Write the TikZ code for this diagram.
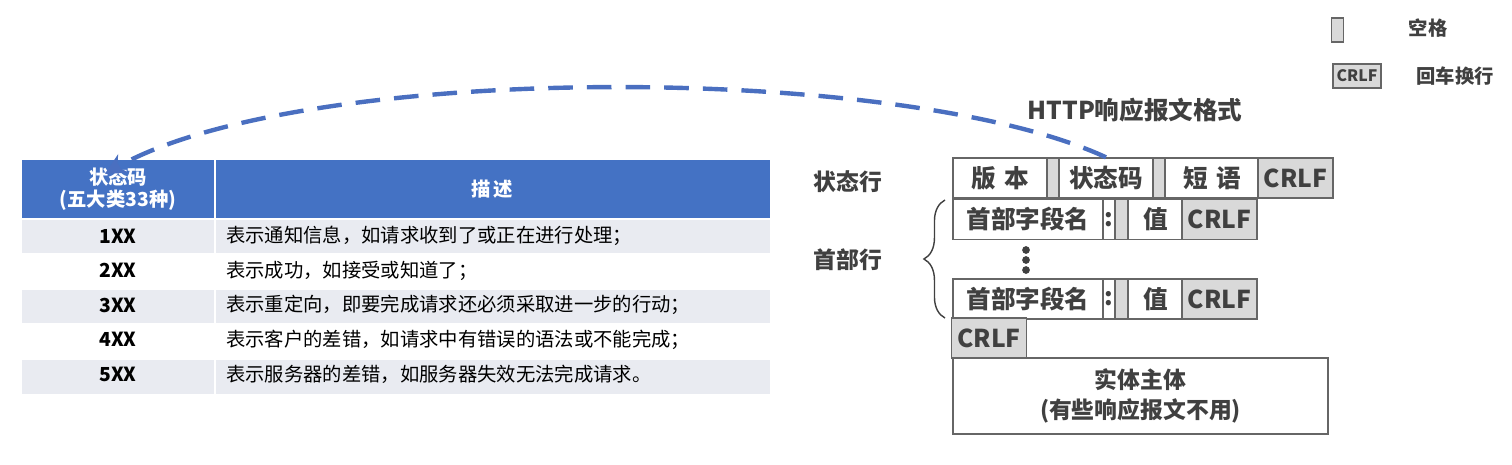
\documentclass[tikz,border=0pt]{standalone}
\usepackage{fontspec}
\setmainfont{Noto Sans CJK SC}
\usetikzlibrary{decorations.pathreplacing,arrows.meta}
\definecolor{hdblue}{HTML}{4472C4}
\definecolor{rowgray}{HTML}{E9EBF1}
\definecolor{fldgray}{HTML}{D9D9D9}
\definecolor{txt}{HTML}{404040}
\definecolor{arrblue}{HTML}{4A6FC0}
\tikzset{
  fld/.style={draw=gray!80!black,line width=0.8pt,minimum height=0.8cm},
  gap/.style={fld,fill=fldgray},
  big/.style={font=\fontsize{14}{16}\selectfont\bfseries,text=txt},
  cell/.style={font=\fontsize{11}{13}\selectfont,text=black},
}
\begin{document}
\begin{tikzpicture}[x=0.02cm,y=-0.02cm]
\useasboundingbox (0,0) rectangle (1512,464);
% table
\fill[hdblue] (22,160) rectangle (770,219);
\foreach \y/\c in {219/rowgray,254/white,289/rowgray,324/white,359/rowgray}
  \fill[\c] (22,\y) rectangle (770,\y+34.5);
\draw[white,line width=1pt] (215,160) -- (215,394);
\foreach \y in {219,254,289,324,359} \draw[white,line width=1.5pt] (22,\y) -- (770,\y);
\node[font=\fontsize{11}{13}\selectfont\bfseries,text=white,align=center] (hcode) at (118,189) {状态码\\(五大类33种)};
\node[font=\fontsize{11}{13}\selectfont\bfseries,text=white] (hdesc) at (492,189) {描\,述};
\coordinate (tip) at (105,174);
\foreach \n/\k/\t in {1/1XX/表示通知信息，如请求收到了或正在进行处理；,
  2/2XX/表示成功，如接受或知道了；,
  3/3XX/表示重定向，即要完成请求还必须采取进一步的行动；,
  4/4XX/表示客户的差错，如请求中有错误的语法或不能完成；,
  5/5XX/表示服务器的差错，如服务器失效无法完成请求。}{
  \node[cell,font=\fontsize{11}{13}\selectfont\bfseries] (code\n) at (118,201.5+34.5*\n) {\k};
  \node[cell,anchor=west] (desc\n) at (220,201.5+34.5*\n) {\t};
}
% message format
\node[big] (title) at (1135,110) {HTTP响应报文格式};
\node[big,font=\fontsize{13}{15}\selectfont\bfseries] (lstat) at (848,182) {状态行};
\node[big,font=\fontsize{13}{15}\selectfont\bfseries] (lhead) at (848,260) {首部行};
\node[fld,big,minimum width=1.88cm] (ver) at (1000,178) {版\,\,本};
\node[gap,minimum width=0.24cm] (sp1) at (1053,178) {};
\node[fld,big,minimum width=1.88cm] (code) at (1106,178) {状态码};
\node[gap,minimum width=0.24cm] (sp2) at (1159,178) {};
\node[fld,big,minimum width=1.88cm] (phrase) at (1212,178) {短\,\,语};
\node[gap,big,minimum width=1.46cm] (crlf0) at (1295.5,178) {CRLF};
\foreach \r/\y in {1/219.5,2/299}{
  \node[fld,big,minimum width=3cm] (name\r) at (1028,\y) {首部字段名};
  \node[fld,big,minimum width=0.24cm,inner sep=0pt] (colon\r) at (1109,\y) {:};
  \node[gap,minimum width=0.26cm] (sp\r a) at (1121.5,\y) {};
  \node[fld,big,minimum width=1.1cm] (val\r) at (1155.5,\y) {值};
  \node[gap,big,minimum width=1.46cm] (crlf\r) at (1219.5,\y) {CRLF};
}
\foreach \d in {250,260,270} \fill[txt] (1026,\d) circle (2.2pt);
\node[gap,big,minimum width=1.44cm] (crlfend) at (989,338) {CRLF};
\node[fld,big,minimum width=7.5cm,minimum height=1.52cm,align=center,font=\fontsize{13}{17}\selectfont\bfseries] (body) at (1140.5,396) {实体主体\\(有些响应报文不用)};
\draw[decorate,decoration={brace,amplitude=12pt},line width=0.8pt,txt] (945,318) -- (945,200);
% legend
\node[gap,minimum width=0.18cm,minimum height=0.48cm] (lgsp) at (1337.5,30) {};
\node[big,font=\fontsize{11}{13}\selectfont\bfseries] (lgsptxt) at (1428,28) {空格};
\node[gap,minimum width=0.96cm,minimum height=0.48cm,font=\fontsize{9}{10}\selectfont\bfseries,text=txt,inner sep=0pt] (lgcr) at (1357,76) {CRLF};
\node[big,font=\fontsize{11}{13}\selectfont\bfseries] (lgcrtxt) at (1455,76) {回车换行};
% arrow
\draw[arrblue,line width=2.5pt,dash pattern=on 14pt off 8pt,-{Stealth[length=12pt,width=12pt]}]
  (code.north) .. controls (900,62) and (300,62) .. (tip);
\end{tikzpicture}
\end{document}
